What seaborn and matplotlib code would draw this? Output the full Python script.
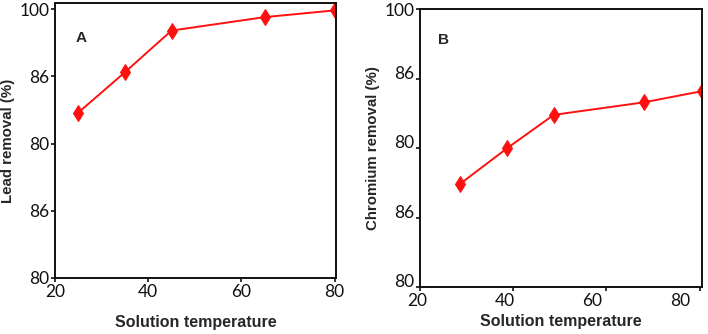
import numpy as np
import pandas as pd
import matplotlib.pyplot as plt
import matplotlib.transforms as mtransforms
import seaborn as sns

# data
temp_a = [25, 35, 45, 65, 80]
lead_removal = [92.3, 95.3, 98.4, 99.4, 99.9]

temp_b = [28.5, 38.7, 48.7, 68.0, 80.4]
chromium_removal = [87.4, 90.0, 92.4, 93.3, 94.1]

x_ticks = [20, 40, 60, 80]
y_ticks = [80, 85, 90, 95, 100]
y_ticklabels = ['80', '86', '80', '86', '100']

sns.set_style('ticks')
plt.rcParams['font.family'] = ['Lato', 'DejaVu Sans']

fig = plt.figure(figsize=(7.08, 3.34), dpi=100)
ax_a = fig.add_axes([0.0777, 0.1677, 0.3969, 0.8233])
ax_b = fig.add_axes([0.5932, 0.1407, 0.3983, 0.8313])

df_a = pd.DataFrame({'temp': temp_a, 'removal': lead_removal})
df_b = pd.DataFrame({'temp': temp_b, 'removal': chromium_removal})

panels = [
    (ax_a, df_a, 'Lead removal (%)', 'A', (80, 100.45), (20, 80.3), (0.075, 0.86), 11),
    (ax_b, df_b, 'Chromium removal (%)', 'B', (80, 100), (20, 80.5), (0.065, 0.875), 4),
]

arial = ['Liberation Sans', 'DejaVu Sans']

for ax, df, ylab, tag, ylim, xlim, tagpos, xpad in panels:
    sns.lineplot(data=df, x='temp', y='removal', ax=ax, color='#ff1010',
                 linewidth=1.4, marker='d', markersize=8.5,
                 markeredgecolor='#ff1010', markerfacecolor='#ff1010')
    ax.set_xlim(*xlim)
    ax.set_ylim(*ylim)
    ax.set_xticks(x_ticks)
    ax.set_yticks(y_ticks)
    ax.set_yticklabels(y_ticklabels)
    ax.tick_params(labelsize=12.5, length=3, width=1.2, colors='#111111', pad=1)
    for s in ax.spines.values():
        s.set_visible(True)
        s.set_linewidth(1.4)
        s.set_color('#111111')
    ax.set_xlabel('Solution temperature', family=arial,
                  fontweight='bold', fontsize=11.5, labelpad=xpad)
    ax.set_ylabel(ylab, family=arial, fontweight='bold', fontsize=10.8, labelpad=3)
    ax.text(tagpos[0], tagpos[1], tag, transform=ax.transAxes,
            family=arial, fontweight='bold', fontsize=11)

# panel B: tick labels sit a little above their ticks, x labels drift left
for lbl in ax_b.get_yticklabels()[:-1]:
    up = mtransforms.ScaledTranslation(0, 4.5 / 72, fig.dpi_scale_trans)
    lbl.set_transform(lbl.get_transform() + up)
for i, lbl in enumerate(ax_b.get_xticklabels()):
    shift = mtransforms.ScaledTranslation(-(2 + 4 * i) / 72, 0, fig.dpi_scale_trans)
    lbl.set_transform(lbl.get_transform() + shift)

fig.savefig('out.png', dpi=100)
